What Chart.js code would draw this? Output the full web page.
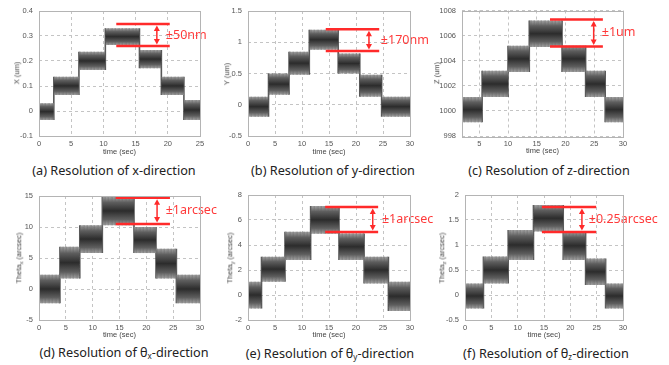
<!DOCTYPE html>
<html><head><meta charset="utf-8">
<script src="https://cdn.jsdelivr.net/npm/chart.js@4/dist/chart.umd.min.js"></script>
<style>
body{margin:0;width:669px;height:365px;background:#fff;position:relative;overflow:hidden;font-family:'Noto Sans',sans-serif}
canvas.box{position:absolute}
.cap{position:absolute;transform:translate(-50%,-50%);font-size:12.7px;color:#222;white-space:nowrap;line-height:1}
.cap sub{font-size:8px;vertical-align:-2px;line-height:0}
.yt{position:absolute;transform:translate(-50%,-50%) rotate(-90deg);font:7.5px 'Liberation Sans',sans-serif;color:#444;white-space:nowrap;line-height:1}
.yt sub{font-size:5.5px;vertical-align:-1.5px;line-height:0}
</style></head><body>
<script>
// ---- data: step boundaries (sec), upper and lower edges of the noisy band per plateau ----
const timeA=[0,2.3,6.2,10.3,15.6,19.0,22.5,25];
const hiA=[0.031,0.137,0.237,0.331,0.244,0.137,0.044];
const loA=[-0.036,0.064,0.164,0.264,0.171,0.064,-0.036];

const timeB=[0,3.8,7.6,11.35,16.7,20.7,24.75,30];
const hiB=[0.13,0.50,0.85,1.20,0.82,0.48,0.13];
const loB=[-0.19,0.16,0.48,0.88,0.50,0.13,-0.19];

const timeC=[2,5.5,10.0,13.7,19.4,23.5,26.9,30];
const hiC=[1001.1,1003.2,1005.2,1007.2,1005.2,1003.2,1001.1];
const loC=[999.1,1001.1,1003.1,1005.1,1003.1,1001.1,999.1];

const timeD=[0,3.9,7.6,11.8,17.7,21.8,25.6,30];
const hiD=[2.3,6.8,10.3,14.9,10.0,6.5,2.3];
const loD=[-2.3,1.7,5.8,10.3,5.8,1.7,-2.3];

const timeE=[0,2.5,6.85,11.6,16.85,21.5,26.0,30];
const hiE=[1.07,3.07,5.07,7.12,4.93,3.07,1.07];
const loE=[-1.07,1.07,2.8,4.9,2.8,0.93,-1.27];

const timeF=[0,3.5,8.2,13.0,18.65,22.9,26.7,30];
const hiF=[0.23,0.77,1.3,1.8,1.27,0.73,0.23];
const loF=[-0.27,0.23,0.7,1.27,0.7,0.2,-0.27];

// axis ranges / tick steps
const xRangeA=[0,25], yRangeA=[-0.1,0.4], yStepA=0.1;
const xRangeB=[0,30], yRangeB=[-0.5,1.5], yStepB=0.5;
const xRangeC=[2,30], yRangeC=[998,1008], yStepC=2;
const xRangeD=[0,30], yRangeD=[-5,15], yStepD=5;
const xRangeE=[0,30], yRangeE=[-2,8], yStepE=2;
const xRangeF=[0,30], yRangeF=[-0.5,2], yStepF=0.5;
const xStep=5;

// resolution annotations (data coordinates)
const annA={x0:12.0,x1:20.3,yTop:0.348,yBot:0.26,arrowX:18.3,labelX:19.7,label:'±50nm'};
const annB={x0:14.4,x1:24.3,yTop:1.21,yBot:0.86,arrowX:22.4,labelX:24.6,label:'±170nm'};
const annC={x0:17.3,x1:26.5,yTop:1007.29,yBot:1005.14,arrowX:24.9,labelX:26.3,label:'±1um'};
const annD={x0:14.3,x1:24.4,yTop:14.7,yBot:10.5,arrowX:22.0,labelX:23.6,label:'±1arcsec'};
const annE={x0:14.3,x1:24.1,yTop:7.04,yBot:5.04,arrowX:23.1,labelX:24.8,label:'±1arcsec'};
const annF={x0:14.6,x1:24.9,yTop:1.76,yBot:1.26,arrowX:22.2,labelX:23.5,label:'±0.25arcsec'};

const captions=['(a) Resolution of x-direction','(b) Resolution of y-direction','(c) Resolution of z-direction',
 '(d) Resolution of θ<sub>x</sub>-direction','(e) Resolution of θ<sub>y</sub>-direction','(f) Resolution of θ<sub>z</sub>-direction'];
const yTitles=['X (um)','Y (um)','Z (um)','Theta<sub>x</sub> (arcsec)','Theta<sub>y</sub> (arcsec)','Theta<sub>z</sub> (arcsec)'];
const xTitle='time (sec)';

// ---- layout (page pixels) ----
const panels=[
 {time:timeA,hi:hiA,lo:loA,xr:xRangeA,yr:yRangeA,ys:yStepA,ann:annA,box:[0,0,220,160],area:[39,11,200,136],xtY:151.5,yt:[17,73],cap:[114,170]},
 {time:timeB,hi:hiB,lo:loB,xr:xRangeB,yr:yRangeB,ys:yStepB,ann:annB,box:[220,0,220,160],area:[248,11,410,136],xtY:151.5,yt:[227,74],cap:[333,170]},
 {time:timeC,hi:hiC,lo:loC,xr:xRangeC,yr:yRangeC,ys:yStepC,ann:annC,box:[440,0,229,160],area:[462,10,623,136],xtY:151,yt:[437,73],cap:[549,170]},
 {time:timeD,hi:hiD,lo:loD,xr:xRangeD,yr:yRangeD,ys:yStepD,ann:annD,box:[0,182,220,160],area:[39,196,200,320],xtY:334.5,yt:[19,258],cap:[124,352]},
 {time:timeE,hi:hiE,lo:loE,xr:xRangeE,yr:yRangeE,ys:yStepE,ann:annE,box:[220,182,220,160],area:[248,195,410,320],xtY:335,yt:[230,258],cap:[330,353]},
 {time:timeF,hi:hiF,lo:loF,xr:xRangeF,yr:yRangeF,ys:yStepF,ann:annF,box:[440,182,229,160],area:[465,195,623,320],xtY:335,yt:[442,258],cap:[546,353]}
];

function makePattern(ctx){
  const c=document.createElement('canvas');c.width=7;c.height=4;
  const g=c.getContext('2d');
  const cols=['rgba(0,0,0,0.35)','rgba(255,255,255,0.14)','rgba(0,0,0,0.18)','rgba(0,0,0,0.4)','rgba(255,255,255,0.2)','rgba(0,0,0,0.1)','rgba(0,0,0,0.28)'];
  cols.forEach((col,i)=>{g.fillStyle=col;g.fillRect(i,0,1,4);});
  g.fillStyle='rgba(255,255,255,0.15)';g.fillRect(0,1,1,1);g.fillRect(3,3,1,1);g.fillRect(6,0,1,1);g.fillRect(2,2,1,1);
  return ctx.createPattern(c,'repeat');
}
function bandGradient(hi,lo){
  return function(c){
    const ch=c.chart;
    if(!ch.chartArea) return '#555';
    const y=ch.scales.y;
    const g=ch.ctx.createLinearGradient(0,y.getPixelForValue(hi),0,y.getPixelForValue(lo));
    g.addColorStop(0,'rgba(140,140,140,0.8)');
    g.addColorStop(0.2,'#5e5e5e');
    g.addColorStop(0.5,'#2c2c2c');
    g.addColorStop(0.8,'#5e5e5e');
    g.addColorStop(1,'rgba(140,140,140,0.8)');
    return g;
  };
}
function plateauDatasets(p,pat){
  const ds=[];
  for(let i=0;i<p.hi.length;i++){
    const up=[{x:p.time[i],y:p.hi[i]},{x:p.time[i+1],y:p.hi[i]}];
    const dn=[{x:p.time[i],y:p.lo[i]},{x:p.time[i+1],y:p.lo[i]}];
    ds.push({data:up,borderWidth:0,pointRadius:0,fill:false});
    ds.push({data:dn,borderWidth:0,pointRadius:0,fill:'-1',backgroundColor:bandGradient(p.hi[i],p.lo[i])});
    ds.push({data:up,borderWidth:0,pointRadius:0,fill:false});
    ds.push({data:dn,borderWidth:0,pointRadius:0,fill:'-1',backgroundColor:pat});
  }
  // transitions between plateaus: the signal sweeps from one band to the next
  const tr=[];
  for(let i=1;i<p.hi.length;i++){
    tr.push({x:p.time[i],y:Math.min(p.lo[i-1],p.lo[i])});
    tr.push({x:p.time[i],y:Math.max(p.hi[i-1],p.hi[i])});
    tr.push({x:p.time[i],y:null});
  }
  ds.push({data:tr,borderColor:'rgba(60,60,60,0.85)',borderWidth:1.6,pointRadius:0,fill:false,spanGaps:false});
  return ds;
}
const RED='#ff2a2a';
function annPlugin(a){
  return {id:'resAnn',afterDatasetsDraw(chart){
    const {ctx,scales:{x,y}}=chart;
    const x0=x.getPixelForValue(a.x0),x1=x.getPixelForValue(a.x1);
    const yt=y.getPixelForValue(a.yTop),yb=y.getPixelForValue(a.yBot);
    const ax=x.getPixelForValue(a.arrowX),lx=x.getPixelForValue(a.labelX);
    ctx.save();
    ctx.strokeStyle=RED;ctx.fillStyle=RED;ctx.lineWidth=2.5;
    ctx.beginPath();ctx.moveTo(x0,yt);ctx.lineTo(x1,yt);ctx.moveTo(x0,yb);ctx.lineTo(x1,yb);ctx.stroke();
    ctx.lineWidth=1.5;
    ctx.beginPath();ctx.moveTo(ax,yt+5);ctx.lineTo(ax,yb-5);ctx.stroke();
    ctx.beginPath();ctx.moveTo(ax,yt+1.5);ctx.lineTo(ax-3,yt+7);ctx.lineTo(ax+3,yt+7);ctx.closePath();ctx.fill();
    ctx.beginPath();ctx.moveTo(ax,yb-1.5);ctx.lineTo(ax-3,yb-7);ctx.lineTo(ax+3,yb-7);ctx.closePath();ctx.fill();
    ctx.font="12.5px 'Noto Sans'";ctx.textBaseline='middle';ctx.textAlign='left';
    ctx.fillStyle='#ff3a3a';
    ctx.fillText(a.label,lx,(yt+yb)/2);
    ctx.restore();
  }};
}
const boxPlugin={id:'frame',afterDraw(chart){
  const {ctx,chartArea:c}=chart;ctx.save();ctx.strokeStyle='#b4b4b4';ctx.lineWidth=1;
  ctx.strokeRect(Math.round(c.left)+0.5,Math.round(c.top)+0.5,Math.round(c.right-c.left),Math.round(c.bottom-c.top));ctx.restore();
}};
const tickFont={size:7.5,family:"'Liberation Sans', sans-serif"};
const fmt=v=>String(+(+v).toFixed(6));
function isMultiple(v,s){const q=v/s;return Math.abs(q-Math.round(q))<1e-6;}

panels.forEach((p,i)=>{
  const [bx,by,bw,bh]=p.box,[L,T,R,B]=p.area;
  const cv=document.createElement('canvas');cv.className='box';
  cv.width=bw;cv.height=bh;cv.style.left=bx+'px';cv.style.top=by+'px';cv.style.width=bw+'px';cv.style.height=bh+'px';
  document.body.appendChild(cv);
  const ctx=cv.getContext('2d');
  const pat=makePattern(ctx);
  const xtOffset=(by+bh)-p.xtY-tickFont.size*1.2/2;
  new Chart(ctx,{type:'line',
    data:{datasets:plateauDatasets(p,pat)},
    options:{responsive:false,animation:false,devicePixelRatio:1,
      layout:{padding:{top:T-by,right:(bx+bw)-R,left:0,bottom:0}},
      plugins:{legend:{display:false},tooltip:{enabled:false}},
      scales:{
        x:{type:'linear',min:p.xr[0],max:p.xr[1],
          ticks:{stepSize:xStep,font:tickFont,color:'#555',padding:3,maxRotation:0,autoSkip:false,callback:fmt},
          afterBuildTicks(s){s.ticks=s.ticks.filter(t=>isMultiple(t.value,xStep));},
          grid:{color:'#c4c4c4',drawTicks:false,lineWidth:1},border:{display:false,dash:[3,3]},
          title:{display:true,text:xTitle,font:tickFont,color:'#444',padding:{top:0,bottom:xtOffset}},
          afterFit(s){s.height=(by+bh)-B;}},
        y:{type:'linear',min:p.yr[0],max:p.yr[1],
          ticks:{stepSize:p.ys,font:tickFont,color:'#555',padding:6,autoSkip:false,callback:fmt},
          afterBuildTicks(s){s.ticks=s.ticks.filter(t=>isMultiple(t.value-p.yr[0],p.ys));},
          grid:{color:'#c4c4c4',drawTicks:false,lineWidth:1},border:{display:false,dash:[3,3]},
          afterFit(s){s.width=L-bx;}}
      }},
    plugins:[boxPlugin,annPlugin(p.ann)]});
  const cap=document.createElement('div');cap.className='cap';cap.innerHTML=captions[i];
  cap.style.left=p.cap[0]+'px';cap.style.top=p.cap[1]+'px';document.body.appendChild(cap);
  const yt=document.createElement('div');yt.className='yt';yt.innerHTML=yTitles[i];
  yt.style.left=p.yt[0]+'px';yt.style.top=p.yt[1]+'px';document.body.appendChild(yt);
});
</script>
</body></html>
